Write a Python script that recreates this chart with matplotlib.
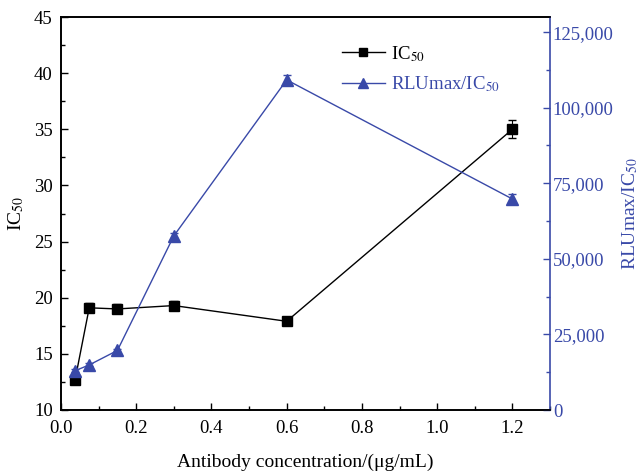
import matplotlib
matplotlib.use("Agg")
import matplotlib.pyplot as plt
from matplotlib.ticker import MultipleLocator, FuncFormatter
from matplotlib.lines import Line2D

conc = [0.0375, 0.075, 0.15, 0.3, 0.6, 1.2]
ic50 = [12.7, 19.1, 19.0, 19.3, 17.9, 35.0]
ic50_err = [0.3, 0.4, 0.4, 0.4, 0.2, 0.8]
rlu = [13000, 14900, 19700, 57600, 109200, 69800]
rlu_err = [500, 500, 500, 800, 1500, 1500]

plt.rcParams['font.family'] = ['Liberation Serif', 'DejaVu Serif']
plt.rcParams['mathtext.fontset'] = 'stix'
blue = '#3949a8'

fig = plt.figure(figsize=(6.41, 4.76), dpi=100)
ax = fig.add_axes([61/641, 1-410/476, (550-61)/641, (410-17)/476])
ax2 = ax.twinx()

ax.errorbar(conc, ic50, yerr=ic50_err, color='black', marker='s', markersize=7,
            linewidth=1, capsize=3, elinewidth=0.8)
ax2.errorbar(conc, rlu, yerr=rlu_err, color=blue, marker='^', markersize=8,
             linewidth=1, capsize=3, elinewidth=0.8)

ax.set_xlim(0, 1.3)
ax.set_ylim(10, 45)
ax2.set_ylim(0, 130000)

ax.xaxis.set_major_locator(MultipleLocator(0.2))
ax.xaxis.set_minor_locator(MultipleLocator(0.1))
ax.yaxis.set_major_locator(MultipleLocator(5))
ax.yaxis.set_minor_locator(MultipleLocator(2.5))
ax2.yaxis.set_major_locator(MultipleLocator(25000))
ax2.yaxis.set_minor_locator(MultipleLocator(12500))
ax.xaxis.set_major_formatter(FuncFormatter(lambda v, p: f"{v:.1f}"))
ax2.yaxis.set_major_formatter(FuncFormatter(lambda v, p: f"{int(v):,}"))

ax.tick_params(axis='both', which='major', direction='in', length=5, width=1, labelsize=13.5)
ax.tick_params(axis='both', which='minor', direction='in', length=3, width=1)
ax.tick_params(axis='x', which='major', pad=7)
ax.tick_params(axis='y', which='major', pad=6)
ax2.tick_params(axis='y', which='major', direction='in', length=5, width=1, labelsize=13.5,
                colors=blue, pad=2)
ax2.tick_params(axis='y', which='minor', direction='in', length=3, width=1, colors=blue)

for s in ['left', 'bottom', 'top']:
    ax.spines[s].set_linewidth(1.2)
    ax2.spines[s].set_linewidth(1.2)
ax2.spines['right'].set_color(blue)
ax2.spines['right'].set_linewidth(1.2)
ax.spines['right'].set_visible(False)

ax.set_xlabel('Antibody concentration/(μg/mL)', fontsize=14, labelpad=12)
ax.set_ylabel('IC$_{50}$', fontsize=14, labelpad=6)
ax2.set_ylabel('RLUmax/IC$_{50}$', fontsize=14, color=blue, labelpad=5)

h1 = Line2D([], [], color='black', marker='s', markersize=6, linewidth=1)
h2 = Line2D([], [], color=blue, marker='^', markersize=7, linewidth=1)
leg = ax.legend([h1, h2], ['IC$_{50}$', 'RLUmax/IC$_{50}$'], loc='upper left',
                bbox_to_anchor=(0.555, 0.955), frameon=False, fontsize=13.5,
                handlelength=2.3, handletextpad=0.3, labelspacing=0.55, borderpad=0)
leg.get_texts()[1].set_color(blue)

fig.savefig('out.png', dpi=100)
